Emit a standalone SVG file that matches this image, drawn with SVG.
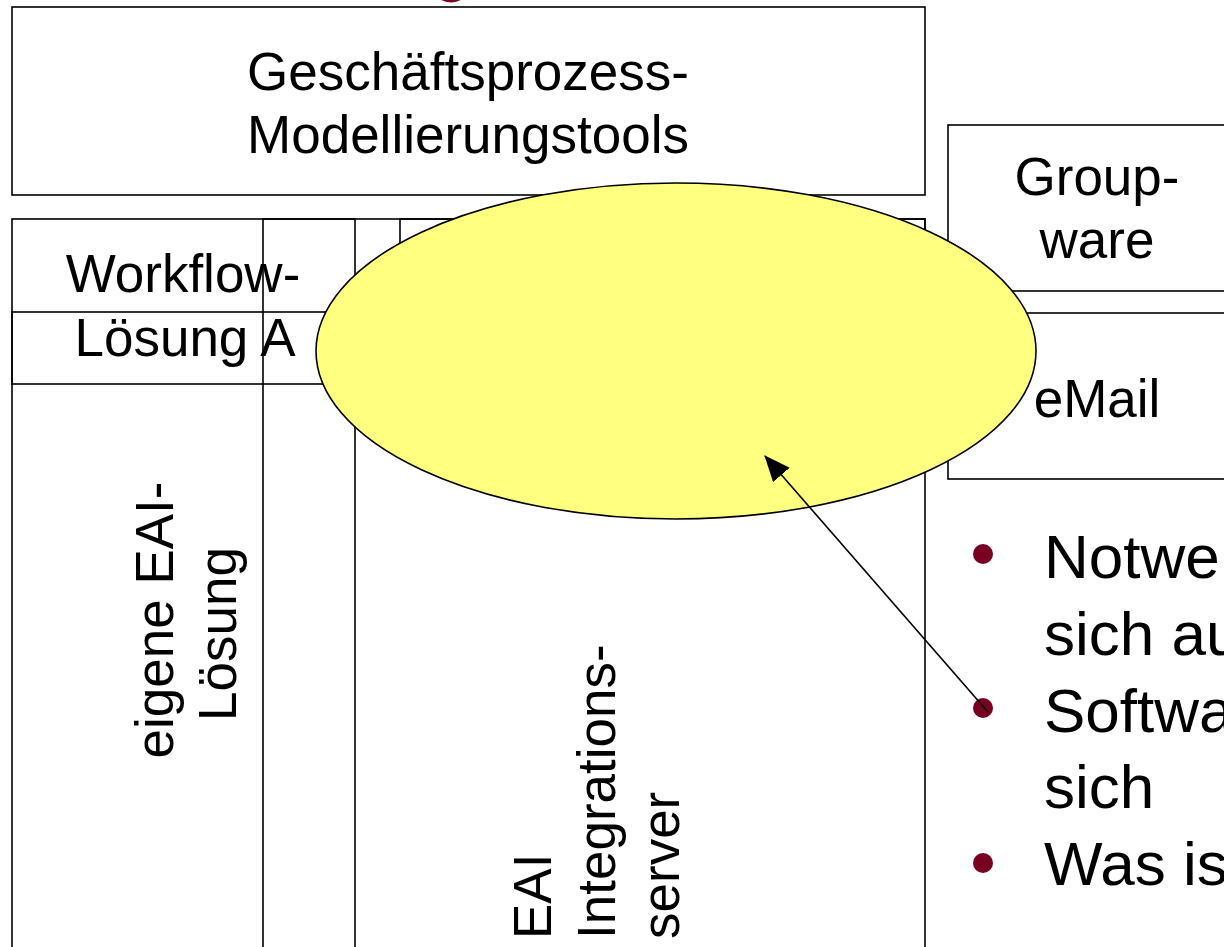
<svg xmlns="http://www.w3.org/2000/svg" width="1224" height="947" viewBox="0 0 1224 947">
<style>
.box{fill:none;stroke:#000;stroke-width:1.6}
.t{font-family:"Liberation Sans",Arial,sans-serif;font-size:53px;fill:#000}
.b{font-family:"Liberation Sans",Arial,sans-serif;font-size:62px;fill:#000}
.dot{fill:#780020}
</style>
<defs>
<marker id="ah" markerUnits="userSpaceOnUse" markerWidth="26" markerHeight="22" viewBox="0 0 26 22" refX="25" refY="11" orient="auto">
<path d="M0,0 L26,11 L0,22 Z" fill="#000"/>
</marker>
</defs>
<rect width="1224" height="947" fill="#fff"/>
<ellipse cx="451" cy="-8" rx="15" ry="10.5" fill="#780020"/>
<g id="geschaeftsprozess">
<rect class="box" x="12" y="7" width="913" height="188"/>
<text class="t" x="468" y="90" text-anchor="middle">Geschäftsprozess-</text>
<text class="t" x="468" y="153" text-anchor="middle">Modellierungstools</text>
</g>
<g id="groupware">
<rect class="box" x="948" y="125" width="300" height="166"/>
<text class="t" x="1097" y="195" text-anchor="middle">Group-</text>
<text class="t" x="1097" y="258" text-anchor="middle">ware</text>
</g>
<g id="email">
<rect class="box" x="948" y="313" width="300" height="166"/>
<text class="t" x="1097" y="417" text-anchor="middle">eMail</text>
</g>
<g id="eai-server">
<rect class="box" x="263" y="219" width="662" height="800"/>
<text class="t" transform="translate(551,939) rotate(-90)">EAI</text>
<text class="t" transform="translate(615,939) rotate(-90)">Integrations-</text>
<text class="t" transform="translate(679,939) rotate(-90)">server</text>
</g>
<g id="hidden-box">
<rect class="box" x="400" y="219" width="525" height="180"/>
</g>
<g id="eigene-eai">
<rect class="box" x="12" y="312" width="343" height="700"/>
<text class="t" transform="translate(173,620) rotate(-90)" text-anchor="middle">eigene EAI-</text>
<text class="t" transform="translate(236,634) rotate(-90)" text-anchor="middle">Lösung</text>
</g>
<g id="workflow">
<rect class="box" x="12" y="219" width="343" height="165"/>
<text class="t" x="183" y="292" text-anchor="middle">Workflow-</text>
<text class="t" x="185" y="356" text-anchor="middle">Lösung A</text>
</g>
<g id="ellipse">
<ellipse cx="676" cy="351" rx="360" ry="168" fill="#FFFF80" stroke="#000" stroke-width="1.6"/>
</g>
<g id="bullets">
<circle class="dot" cx="983" cy="554" r="10"/>
<circle class="dot" cx="983" cy="708" r="10"/>
<circle class="dot" cx="983" cy="863" r="10"/>
<text class="b" x="1044" y="578">Notwe</text>
<text class="b" x="1044" y="655">sich au</text>
<text class="b" x="1044" y="732">Softwa</text>
<text class="b" x="1044" y="808">sich</text>
<text class="b" x="1044" y="885">Was is</text>
</g>
<g id="connectors">
<line x1="988" y1="712" x2="765" y2="456" stroke="#000" stroke-width="1.6" marker-end="url(#ah)"/>
</g>
</svg>
